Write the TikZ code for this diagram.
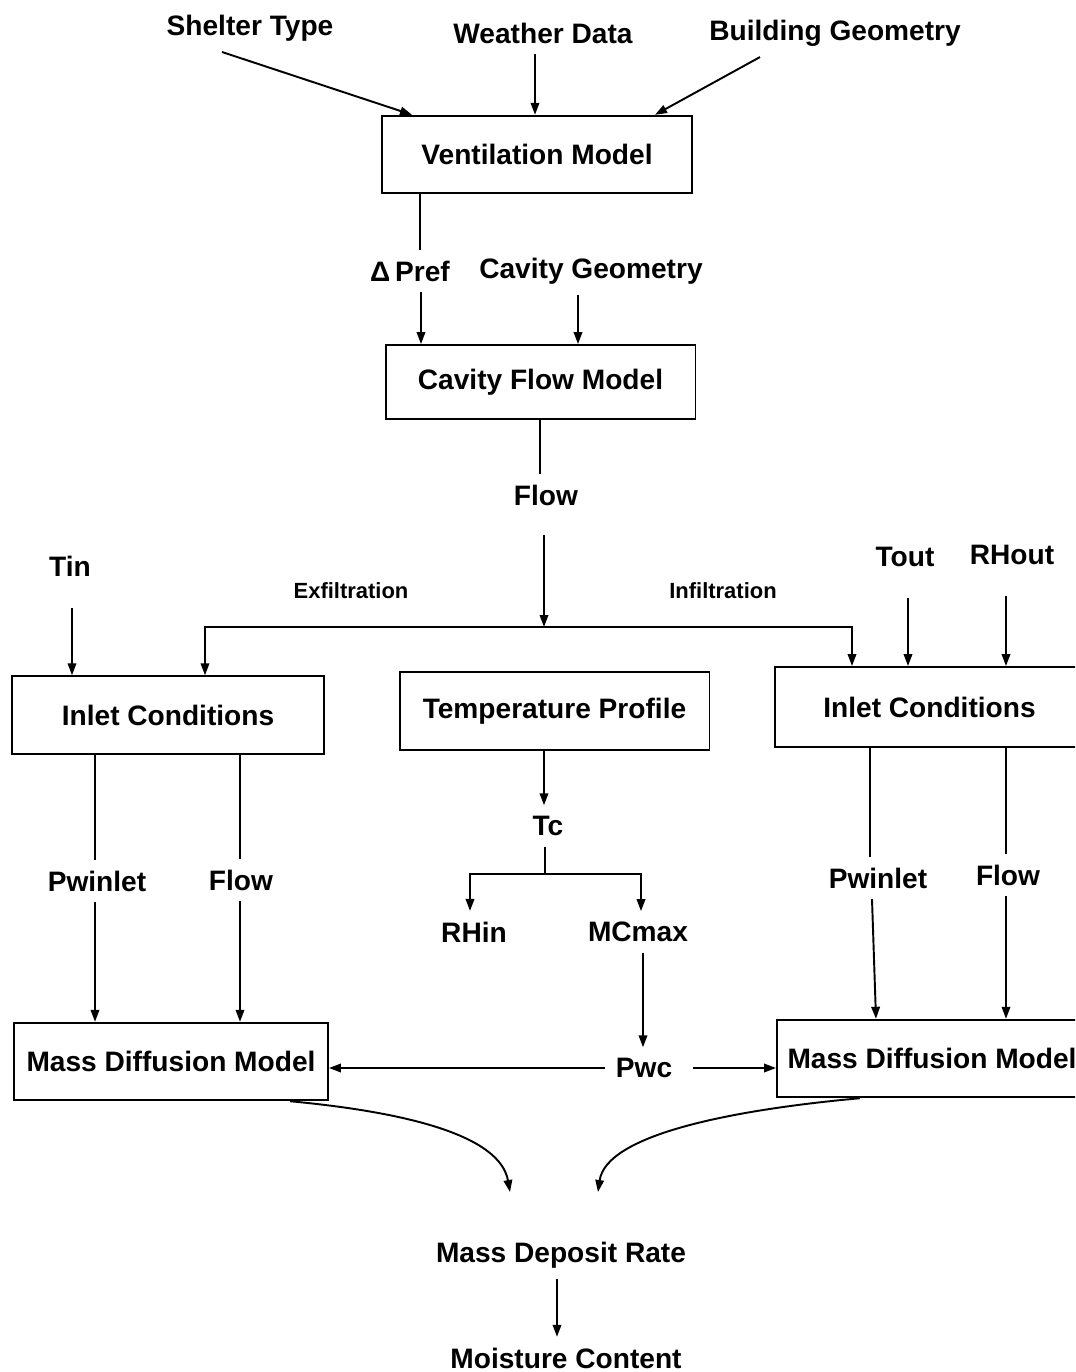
\documentclass[tikz,border=0pt]{standalone}
\usepackage{fontspec}
\setmainfont{Liberation Sans}
\usetikzlibrary{arrows.meta,calc}
\begin{document}
\begin{tikzpicture}[x=0.02cm,y=-0.02cm,
    every node/.style={font=\bfseries\fontsize{16}{18}\selectfont, inner sep=6pt},
    smalllbl/.style={font=\bfseries\fontsize{12.5}{14}\selectfont},
    model/.style={draw, line width=1.1pt, minimum width=6.2cm, minimum height=1.55cm},
    conn/.style={line width=1.1pt},
    flowarrow/.style={conn, -{Triangle[length=2.4mm,width=1.7mm]}}]
                    \useasboundingbox (0,0) rectangle (1075,1372);
                    \clip (0,0) rectangle (1075,1372);

                    % Inputs of the ventilation model
                    \node (shelter) at (250,28) {Shelter Type};
                    \node (weather) at (543,33) {Weather Data};
                    \node (bgeom) at (835,33) {Building Geometry};

                    % Box Ventilation Model
                    \node[model] (vent) at (537,154.5) {Ventilation Model};

                    \draw[flowarrow] (shelter.south -| 222,0) -- (vent.north -| 412,0);
                    \draw[flowarrow] (weather.south -| 535,0) -- (vent.north -| 535,0);
                    \draw[flowarrow] (bgeom.south -| 760,0) -- (vent.north -| 655,0);

                    % Pressure and cavity geometry
                    \node (dpref) at (410,271) {Δ\,Pref};
                    \node (cgeom) at (591,271) {Cavity Geometry};

                    % Box Cavity Flow Model
                    \node[model, minimum height=1.48cm] (cavity) at (540.5,382) {Cavity Flow Model};

                    \draw[conn] (vent.south -| 420,0) -- (dpref.north -| 420,0);
                    \draw[flowarrow] (dpref.south -| 421,0) -- (cavity.north -| 421,0);
                    \draw[flowarrow] (cgeom.south -| 578,0) -- (cavity.north -| 578,0);

                    % Flow and its split
                    \node (flow) at (546,495) {Flow};
                    \coordinate (split) at (544,627);
                    \draw[conn] (cavity.south -| 540,0) -- (flow.north -| 540,0);
                    \draw[flowarrow, shorten <=0.38cm] (flow.south -| 544,0) -- (split);

                    \node[smalllbl] (exfil) at (351,591) {Exfiltration};
                    \node[smalllbl] (infil) at (723,591) {Infiltration};

                    % Outside and inside conditions
                    \node (tin) at (70,566) {Tin};
                    \node (tout) at (905,557) {Tout};
                    \node (rhout) at (1012,555) {RHout};

                    % Boxes of the second row
                    \node[model, minimum width=6.24cm] (inletL) at (168,715) {Inlet Conditions};
                    \node[model] (temp) at (554.5,711) {Temperature Profile};
                    \node[model, minimum height=1.6cm] (inletR) at (929.5,707) {Inlet Conditions};

                    \draw[flowarrow] (split) -| (inletL.north -| 205,0);
                    \draw[flowarrow] (split) -| (inletR.north -| 852,0);
                    \draw[flowarrow, shorten <=0.42cm] (tin.south -| 72,0) -- (inletL.north -| 72,0);
                    \draw[flowarrow, shorten <=0.4cm] (tout.south -| 908,0) -- (inletR.north -| 908,0);
                    \draw[flowarrow, shorten <=0.4cm] (rhout.south -| 1006,0) -- (inletR.north -| 1006,0);

                    % Temperature branch
                    \node (tc) at (548,826) {Tc};
                    \coordinate (tcsplit) at (545,874);
                    \node (rhin) at (474,932) {RHin};
                    \node (mcmax) at (638,932) {MCmax};
                    \node (pwc) at (644,1068) {Pwc};

                    \draw[flowarrow] (temp.south -| 544,0) -- (tc.north -| 544,0);
                    \draw[conn] (tc.south -| 545,0) -- (tcsplit);
                    \draw[flowarrow] (tcsplit) -| (rhin.north -| 470,0);
                    \draw[flowarrow] (tcsplit) -| (mcmax.north -| 641,0);
                    \draw[flowarrow] (mcmax.south -| 643,0) -- (pwc.north -| 643,0);

                    % Left and right columns
                    \node (pwinL) at (97,881) {Pwinlet};
                    \node (flowL) at (241,880) {Flow};
                    \node (pwinR) at (878,878) {Pwinlet};
                    \node (flowR) at (1008,875) {Flow};

                    % Boxes Mass Diffusion Model
                    \node[model, minimum width=6.28cm] (mdL) at (171,1061.5) {Mass Diffusion Model};
                    \node[model] (mdR) at (932,1058.5) {Mass Diffusion Model};

                    \draw[conn] (inletL.south -| 95,0) -- (pwinL.north -| 95,0);
                    \draw[flowarrow] (pwinL.south -| 95,0) -- (mdL.north -| 95,0);
                    \draw[conn] (inletL.south -| 240,0) -- (flowL.north -| 240,0);
                    \draw[flowarrow] (flowL.south -| 240,0) -- (mdL.north -| 240,0);
                    \draw[conn] (inletR.south -| 870,0) -- (pwinR.north -| 870,0);
                    \draw[flowarrow] (pwinR.south -| 872,0) -- (mdR.north -| 876,0);
                    \draw[conn] (inletR.south -| 1006,0) -- (flowR.north -| 1006,0);
                    \draw[flowarrow] (flowR.south -| 1006,0) -- (mdR.north -| 1006,0);

                    \draw[flowarrow] (pwc.west) -- (mdL.east |- pwc.west);
                    \draw[flowarrow, shorten <=0.2cm] (pwc.east) -- (mdR.west |- pwc.east);

                    % Deposit and moisture
                    \node (deposit) at (561,1255) {Mass Deposit Rate};
                    \node (moist) at (566,1358) {Moisture Content};

                    \draw[flowarrow] (mdL.south -| 290,0) .. controls (405,1112) and (500,1135) .. ($(deposit.north -| 510,0)+(0,-39)$);
                    \draw[flowarrow] (mdR.south -| 860,0) .. controls (730,1110) and (606,1135) .. ($(deposit.north -| 598,0)+(0,-39)$);
                    \draw[flowarrow] (deposit.south -| 557,0) -- (moist.north -| 557,0);
\end{tikzpicture}
\end{document}
